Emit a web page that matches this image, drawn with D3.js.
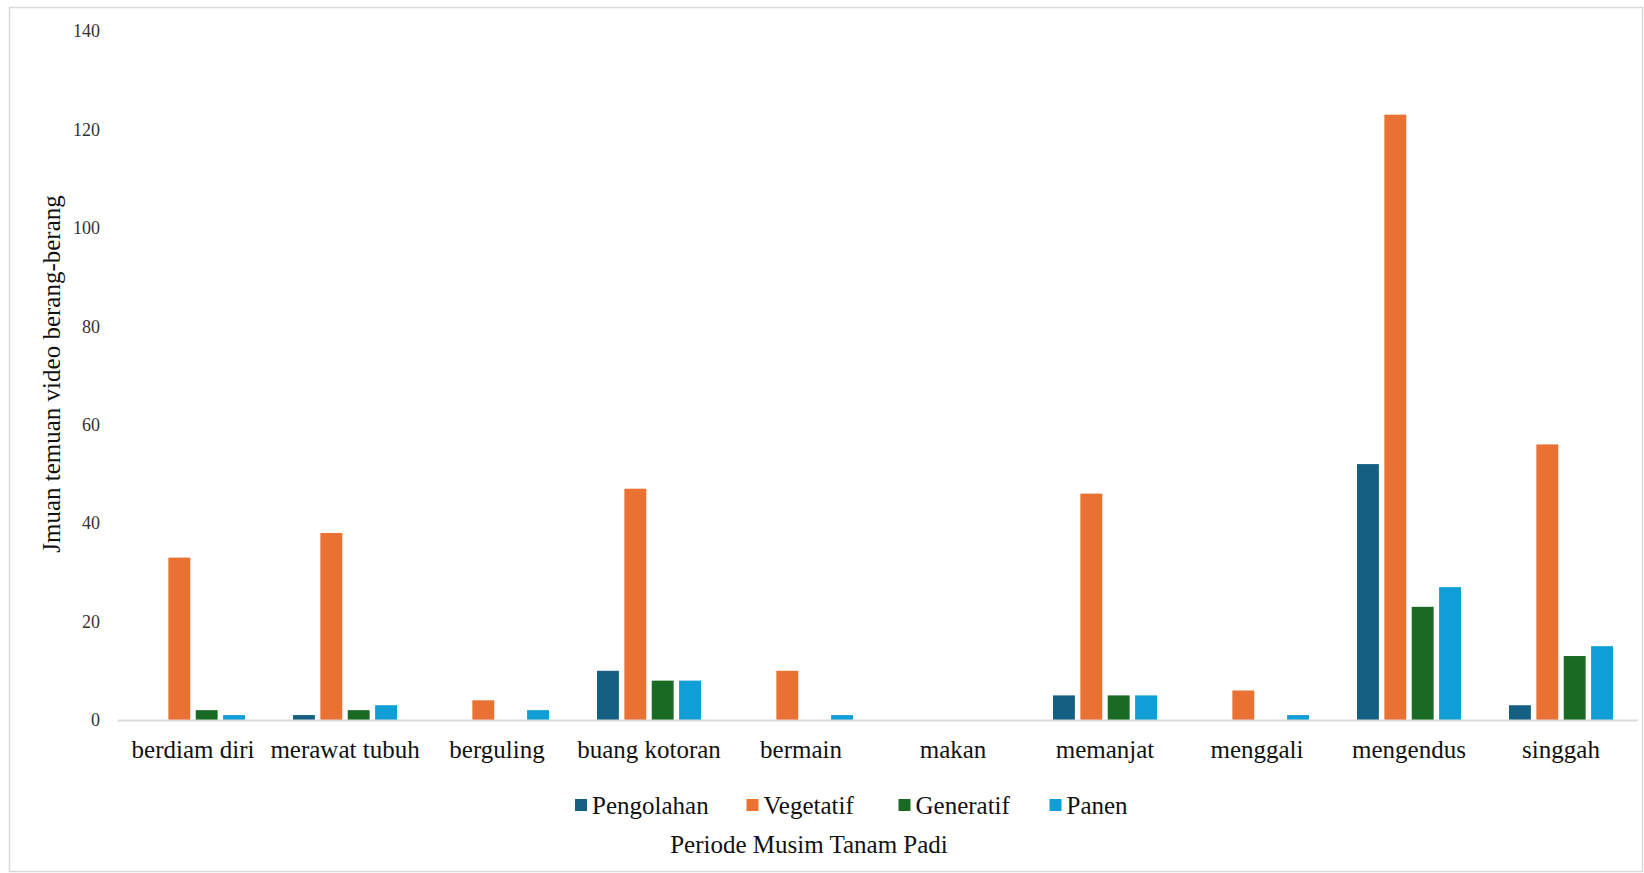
<!DOCTYPE html>
<html>
<head>
<meta charset="utf-8">
<script src="https://cdn.jsdelivr.net/npm/d3@7"></script>
<style>
html,body{margin:0;padding:0;background:#fff;}
svg{display:block;}
svg text{font-family:"Liberation Serif","Times New Roman",serif !important;}
</style>
</head>
<body>
<svg id="chart" width="1644" height="873"></svg>
<script>
const categories = ["berdiam diri","merawat tubuh","berguling","buang kotoran","bermain","makan","memanjat","menggali","mengendus","singgah"];
const seriesNames = ["Pengolahan","Vegetatif","Generatif","Panen"];
const pengolahan = [0,1,0,10,0,0,5,0,52,3];
const vegetatif  = [33,38,4,47,10,0,46,6,123,56];
const generatif  = [2,2,0,8,0,0,5,0,23,13];
const panen      = [1,3,2,8,1,0,5,1,27,15];
const yTicks = [0,20,40,60,80,100,120,140];
const colors = ["#156082","#E97132","#196B24","#0F9ED5"];
const yTitle = "Jmuan temuan video berang-berang";
const xTitle = "Periode Musim Tanam Padi";

const seriesValues = [pengolahan, vegetatif, generatif, panen];
const svg = d3.select("#chart");

// outer border
svg.append("rect").attr("x",9.5).attr("y",7.5).attr("width",1633).attr("height",864)
  .attr("fill","#fff").attr("stroke","#d9d9d9").attr("stroke-width",1.5);

const x0 = d3.scaleBand().domain(categories).range([117,1637]).padding(0);
const x1 = d3.scaleBand().domain(seriesNames).range([24,128]).paddingInner(0.2).paddingOuter(0);
const y = d3.scaleLinear().domain([0,140]).range([720,31]);
const color = d3.scaleOrdinal().domain(seriesNames).range(colors);

// y axis (labels only)
const yAxis = d3.axisLeft(y).tickValues(yTicks).tickSize(0).tickPadding(0);
const gy = svg.append("g").attr("transform","translate(100,0)").call(yAxis);
gy.select(".domain").remove();
gy.selectAll("text").attr("font-size",18).attr("fill","#333");

// bars
const groups = svg.append("g").selectAll("g").data(categories).join("g")
  .attr("transform", d => `translate(${x0(d)},0)`);
groups.selectAll("rect")
  .data((c,i) => seriesNames.map((s,j) => ({s, v: seriesValues[j][i]})))
  .join("rect")
  .attr("x", d => x1(d.s))
  .attr("width", x1.bandwidth())
  .attr("y", d => y(d.v))
  .attr("height", d => y(0) - y(d.v))
  .attr("fill", d => color(d.s));

// x axis
const xAxis = d3.axisBottom(x0).tickSize(0).tickPadding(0);
const gx = svg.append("g").attr("transform","translate(0,720)").call(xAxis);
gx.select(".domain").attr("stroke","#d9d9d9").attr("stroke-width",2);
gx.selectAll("text").attr("font-size",25).attr("fill","#111").attr("dy",0).attr("y",38);

// y title
svg.append("text").attr("transform","translate(60,374) rotate(-90)")
  .attr("text-anchor","middle").attr("font-size",25).attr("fill","#111").text(yTitle);

// legend
const legendX = [575,746.5,898.5,1049.5];
const lg = svg.append("g").selectAll("g").data(seriesNames).join("g")
  .attr("transform",(d,i)=>`translate(${legendX[i]},805)`);
lg.append("rect").attr("x",0).attr("y",-6).attr("width",12).attr("height",12).attr("fill",d=>color(d));
lg.append("text").attr("x",17).attr("y",9).attr("font-size",25).attr("fill","#111").text(d=>d);

// x title
svg.append("text").attr("x",809).attr("y",853).attr("text-anchor","middle")
  .attr("font-size",25).attr("fill","#111").text(xTitle);
</script>
</body>
</html>
